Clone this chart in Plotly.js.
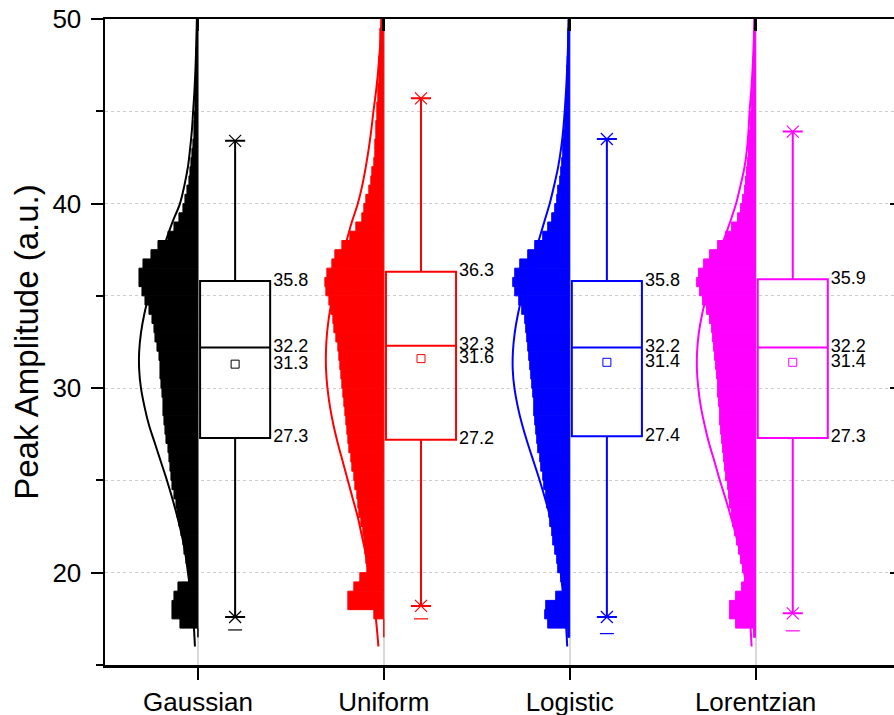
<!DOCTYPE html>
<html>
<head>
<meta charset="utf-8">
<script src="https://cdn.plot.ly/plotly-3.0.1.min.js"></script>
<style>
  html, body { margin: 0; padding: 0; overflow: hidden; background: #ffffff; }
  #chart { width: 896px; height: 715px; }
</style>
</head>
<body>
<div id="chart"></div>
<script>
// Peak amplitude distributions for four line-shape models:
// half-histogram + fitted curve on the left of each category, box summary on the right.

const categories = ['Gaussian', 'Uniform', 'Logistic', 'Lorentzian'];
const seriesColors = ['#000000', '#FF0000', '#0000FF', '#FF00FF'];

// Histogram bin centres (bin width 0.5 a.u.)
const binCenters = [
  16.75, 17.25, 17.75, 18.25, 18.75, 19.25, 19.75, 20.25, 20.75, 21.25,
  21.75, 22.25, 22.75, 23.25, 23.75, 24.25, 24.75, 25.25, 25.75, 26.25,
  26.75, 27.25, 27.75, 28.25, 28.75, 29.25, 29.75, 30.25, 30.75, 31.25,
  31.75, 32.25, 32.75, 33.25, 33.75, 34.25, 34.75, 35.25, 35.75, 36.25,
  36.75, 37.25, 37.75, 38.25, 38.75, 39.25, 39.75, 40.25, 40.75, 41.25,
  41.75, 42.25, 42.75, 43.25, 43.75, 44.25, 44.75, 45.25, 45.75, 46.25,
  46.75, 47.25, 47.75, 48.25, 48.75, 49.25, 49.75
];

// Bin counts (relative) per model
const countsGaussian = [
  0, 18, 26, 26, 24, 20, 9, 10, 12, 14,
  15, 17, 19, 21, 22, 24, 26, 27, 28, 29,
  30, 32, 33, 34, 35, 35, 36, 37, 38, 38,
  39, 41, 43, 44, 46, 49, 53, 56, 59, 59,
  55, 47, 40, 30, 24, 19, 15, 13, 11, 9,
  8, 7, 6, 5, 4, 4, 3.5, 3, 3, 2.5,
  2.5, 2, 2, 2, 1.5, 1.5, 1.5
];
const countsUniform = [
  0, 0, 10, 36, 36, 30, 24, 17, 18, 19,
  20, 21, 23, 25, 26, 27, 29, 30, 32, 33,
  35, 36, 37, 38, 39, 40, 41, 42, 43, 44,
  45, 46, 48, 50, 51, 53, 55, 58, 59, 57,
  52, 49, 42, 34, 28, 22, 20, 18, 15, 13,
  12, 10, 9, 9, 8, 8, 7, 7, 6, 6,
  5, 5, 5, 4, 4, 4, 3
];
const countsLogistic = [
  2, 22, 25, 24, 14, 7, 9, 12, 13, 15,
  17, 18, 20, 21, 23, 24, 26, 27, 29, 30,
  32, 33, 34, 35, 36, 36, 37, 38, 39, 40,
  41, 42, 43, 44, 45, 48, 51, 55, 57, 55,
  50, 42, 35, 27, 22, 18, 15, 13, 12, 10,
  9, 8, 7, 7, 6, 5, 5, 4, 4, 3,
  3, 3, 2.5, 2, 2, 2, 1.5
];
const countsLorentzian = [
  2, 20, 26, 26, 20, 14, 11, 13, 15, 17,
  19, 21, 23, 24, 26, 27, 28, 30, 31, 32,
  33, 34, 35, 36, 36, 37, 38, 38, 39, 40,
  41, 42, 43, 44, 46, 49, 53, 56, 59, 57,
  52, 46, 38, 30, 24, 18, 15, 13, 11, 10,
  9, 8, 7, 7, 6, 5, 5, 4, 4, 3,
  3, 3, 2.5, 2, 2, 2, 1.5
];

// Fitted distribution curves, same count units, sampled at these levels
const curveLevels = [
  16, 17, 18, 19, 20, 21, 22, 23, 24, 25, 26, 27, 28, 29, 30, 31, 32, 33,
  34, 35, 36, 37, 38, 39, 40, 41, 42, 43, 44, 45, 46, 47, 48, 49, 50
];
const curveGaussian = [
  3, 4, 5.5, 7.5, 10, 12.5, 16, 20.5, 25.5, 31, 37, 43, 49, 53.5, 57, 58.8, 58.8, 57,
  53.7, 49.2, 43.9, 38.1, 32, 25.5, 18, 13.5, 10, 7.8, 6, 4.8, 3.6, 2.7, 2, 1.5, 1
];
const curveUniform = [
  5.4, 7, 9, 12, 15.3, 18, 22, 26, 31, 36, 41, 46, 50.4, 53.9, 56.4, 57.8, 57.9, 56.8,
  54.5, 51.2, 47, 42.3, 37.2, 32, 26, 21.5, 18, 15, 12.5, 10.4, 8, 6, 4.5, 3, 2
];
const curveLogistic = [
  2.5, 3.5, 5, 7, 9, 12, 15.5, 19.5, 24.5, 30, 36, 42, 47.5, 52, 55.3, 57, 56.8, 55,
  51.8, 47.5, 42.4, 36.8, 31, 25.5, 20, 15.5, 11.5, 8.6, 6.5, 5, 3.8, 2.8, 2, 1.5, 1
];
const curveLorentzian = [
  4, 5, 6.5, 8.5, 11.4, 15, 19.5, 24.5, 30, 35.7, 41, 46.5, 51, 54.8, 57.3, 58.7, 58.5, 56.8,
  53.5, 49, 43.8, 38, 32, 25.5, 19.5, 15, 11, 8.5, 7, 6, 4.5, 3.3, 2.4, 1.7, 1.2
];

// Box summaries
const q1Values = [27.3, 27.2, 27.4, 27.3];
const medianValues = [32.2, 32.3, 32.2, 32.2];
const q3Values = [35.8, 36.3, 35.8, 35.9];
const meanValues = [31.3, 31.6, 31.4, 31.4];
const p1Values = [17.6, 18.2, 17.6, 17.8];
const p99Values = [43.4, 45.7, 43.5, 43.9];
const minValues = [16.9, 17.5, 16.7, 16.85];

const histCounts = [countsGaussian, countsUniform, countsLogistic, countsLorentzian];
const fitCurves = [curveGaussian, curveUniform, curveLogistic, curveLorentzian];

// Layout constants (category units)
const countToWidth = 1 / 186;   // count units -> category-axis width
const boxOffset = 0.2;
const boxWidth = 0.377;
const labelOffset = boxOffset + boxWidth / 2 + 0.016;

const fontFamily = '"Liberation Sans", Arial, Helvetica, sans-serif';
const traces = [];

categories.forEach((name, i) => {
  const pos = i + 1;
  const color = seriesColors[i];

  // left-facing half histogram
  traces.push({
    type: 'bar', orientation: 'h',
    y: binCenters,
    x: histCounts[i].map(c => -c * countToWidth),
    base: pos,
    width: 0.5,
    marker: { color: color, line: { width: 1, color: color } },
    hoverinfo: 'skip', showlegend: false
  });

  // fitted distribution curve
  traces.push({
    type: 'scatter', mode: 'lines',
    y: curveLevels,
    x: fitCurves[i].map(c => pos - c * countToWidth),
    line: { color: color, width: 2, shape: 'spline' },
    hoverinfo: 'skip', showlegend: false
  });

  // box with 1%-99% whiskers
  traces.push({
    type: 'box',
    x: [pos + boxOffset],
    q1: [q1Values[i]], median: [medianValues[i]], q3: [q3Values[i]],
    lowerfence: [p1Values[i]], upperfence: [p99Values[i]],
    width: boxWidth, whiskerwidth: 0.286,
    line: { color: color, width: 2 },
    fillcolor: 'rgba(0,0,0,0)',
    boxpoints: false, hoverinfo: 'skip', showlegend: false
  });

  // mean marker
  traces.push({
    type: 'scatter', mode: 'markers',
    x: [pos + boxOffset], y: [meanValues[i]],
    marker: { symbol: 'square-open', size: 8, color: color, line: { width: 1, color: color } },
    hoverinfo: 'skip', showlegend: false
  });

  // 1% / 99% markers
  traces.push({
    type: 'scatter', mode: 'markers',
    x: [pos + boxOffset, pos + boxOffset], y: [p1Values[i], p99Values[i]],
    marker: { symbol: 'x-thin-open', size: 12, color: color, line: { width: 1.2, color: color } },
    hoverinfo: 'skip', showlegend: false
  });

  // minimum marker
  traces.push({
    type: 'scatter', mode: 'markers',
    x: [pos + boxOffset], y: [minValues[i]],
    marker: { symbol: 'line-ew-open', size: 10, color: color, line: { width: 1.2, color: color } },
    hoverinfo: 'skip', showlegend: false
  });

  // value labels beside the box
  const labelY = [q3Values[i], medianValues[i], meanValues[i], q1Values[i]];
  traces.push({
    type: 'scatter', mode: 'text',
    x: labelY.map(() => pos + labelOffset), y: labelY,
    text: labelY.map(v => v.toFixed(1)),
    textposition: 'middle right',
    textfont: { family: fontFamily, size: 18, color: '#000000' },
    hoverinfo: 'skip', showlegend: false, cliponaxis: false
  });
});

// carrier for the top / right frame axes
traces.push({ type: 'scatter', mode: 'markers', x: [null], y: [null], xaxis: 'x2', yaxis: 'y2', showlegend: false, hoverinfo: 'skip' });

const xRange = [0.5, 4.75];
const yRange = [15, 50];
const tickPositions = categories.map((_, i) => i + 1);

const layout = {
  width: 896, height: 715,
  margin: { l: 105, r: 1, t: 19, b: 50 },
  paper_bgcolor: '#ffffff', plot_bgcolor: '#ffffff',
  font: { family: fontFamily, color: '#000000' },
  barmode: 'overlay', boxmode: 'overlay', showlegend: false,
  xaxis: {
    range: xRange, tickvals: tickPositions, ticktext: categories,
    ticks: 'outside', ticklen: 12, tickwidth: 2, tickcolor: '#000000',
    showline: true, linewidth: 2.5, linecolor: '#000000',
    showgrid: true, gridcolor: '#d9d9d9', gridwidth: 2,
    zeroline: false, tickfont: { family: fontFamily, size: 26, color: '#000000' }
  },
  yaxis: {
    range: yRange, tick0: 0, dtick: 10,
    ticks: 'outside', ticklen: 12, tickwidth: 2, tickcolor: '#000000',
    ticklabelstandoff: 4,
    showline: true, linewidth: 2.5, linecolor: '#000000',
    showgrid: true, gridcolor: '#cccccc', gridwidth: 1, griddash: 'dot',
    zeroline: false, tickfont: { family: fontFamily, size: 26, color: '#000000' },
    minor: { dtick: 5, ticks: 'outside', ticklen: 7, tickwidth: 2, tickcolor: '#000000',
             showgrid: true, gridcolor: '#cccccc', gridwidth: 1, griddash: 'dot' },
    title: { text: 'Peak Amplitude (a.u.)', font: { family: fontFamily, size: 33, color: '#000000' }, standoff: 4 }
  },
  xaxis2: {
    overlaying: 'x', side: 'top', range: xRange, tickvals: tickPositions,
    ticks: 'inside', ticklen: 12, tickwidth: 3, tickcolor: '#000000',
    showticklabels: false, showline: true, linewidth: 2.5, linecolor: '#000000',
    showgrid: false, zeroline: false
  },
  yaxis2: {
    overlaying: 'y', side: 'right', range: yRange, tick0: 0, dtick: 10,
    ticks: 'inside', ticklen: 5, tickwidth: 2, tickcolor: '#000000',
    showticklabels: false, showline: true, linewidth: 2, linecolor: '#000000',
    showgrid: false, zeroline: false
  }
};

Plotly.newPlot('chart', traces, layout, { staticPlot: true, displayModeBar: false });
</script>
</body>
</html>
